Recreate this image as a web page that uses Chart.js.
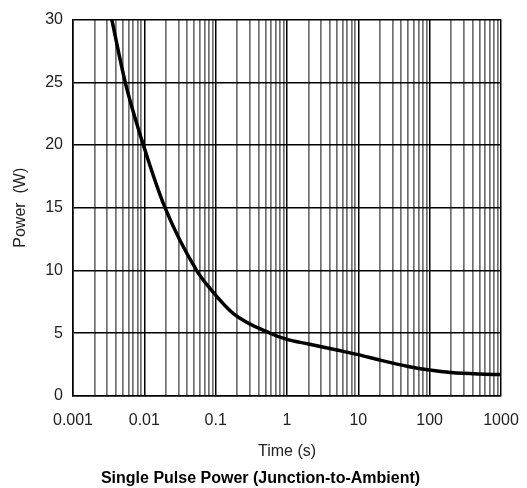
<!DOCTYPE html>
<html>
<head>
<meta charset="utf-8">
<script src="https://cdn.jsdelivr.net/npm/chart.js@4/dist/chart.umd.min.js"></script>
<style>
  html, body { margin: 0; padding: 0; background: #fff; }
  #wrap { width: 527px; height: 488px; }
</style>
</head>
<body>
<div id="wrap"><canvas id="pulseChart"></canvas></div>
<script>
// --- Data ---
const timeValues  = [0.0035, 0.0054, 0.0097, 0.0195, 0.054, 0.088, 0.177, 0.6, 1, 2, 5, 10, 20, 50, 100, 200, 500, 1000];
const powerValues = [30, 25, 20, 15, 10, 8.4, 6.56, 4.95, 4.5, 4.13, 3.65, 3.28, 2.85, 2.34, 2.05, 1.85, 1.73, 1.69];

// --- Axis ticks ---
const decadeTicks  = [0.001, 0.01, 0.1, 1, 10, 100, 1000];
const decadeLabels = ['0.001', '0.01', '0.1', '1', '10', '100', '1000'];
const minorSteps   = [2, 3, 4, 5, 6, 7, 8, 9];
const powerTicks   = [0, 5, 10, 15, 20, 25, 30];

const fontFamily = '"Liberation Sans", Arial, Helvetica, sans-serif';
const textColor = '#222';

// build the log grid: every decade plus its 2..9 multiples
function buildTimeTicks() {
    const ticks = [];
    decadeTicks.forEach((d, i) => {
        ticks.push({ value: d, major: true });
        if (i < decadeTicks.length - 1) {
            minorSteps.forEach(m => ticks.push({ value: d * m, major: false }));
        }
    });
    return ticks;
}

const ctx = document.getElementById('pulseChart').getContext('2d');

new Chart(ctx, {
    type: 'line',
    data: {
        datasets: [{
            label: 'Power',
            data: timeValues.map((t, i) => ({ x: t, y: powerValues[i] })),
            borderColor: '#000',
            borderWidth: 3.5,
            pointRadius: 0,
            cubicInterpolationMode: 'monotone',
            fill: false
        }]
    },
    options: {
        responsive: true,
        maintainAspectRatio: false,
        animation: false,
        layout: { padding: { left: 0, right: 6, top: 18, bottom: 0 } },
        plugins: {
            legend: { display: false },
            tooltip: { enabled: false },
            title: {
                display: true,
                position: 'bottom',
                text: 'Single Pulse Power (Junction-to-Ambient)',
                color: '#000',
                font: { family: fontFamily, size: 16, weight: 'bold' },
                padding: { top: 0, bottom: 0 }
            }
        },
        scales: {
            x: {
                type: 'logarithmic',
                min: 0.001,
                max: 1000,
                afterBuildTicks: (scale) => { scale.ticks = buildTimeTicks(); },
                afterFit: (scale) => {
                    scale.height = 73;
                    // fixed side margins; end labels may hang over like the original
                    scale.paddingLeft = 0;
                    scale.paddingRight = 26;
                },
                border: { display: true, color: '#000', width: 1.5 },
                grid: {
                    drawTicks: false,
                    color: (c) => (c.tick && c.tick.major) ? '#000' : '#707070',
                    lineWidth: (c) => (c.tick && c.tick.major) ? 1.5 : 1.7
                },
                ticks: {
                    autoSkip: false,
                    maxRotation: 0,
                    padding: 15,
                    color: textColor,
                    font: { family: fontFamily, size: 16 },
                    callback: (v) => {
                        const i = decadeTicks.findIndex(d => Math.abs(d - v) < d * 1e-6);
                        return i >= 0 ? decadeLabels[i] : '';
                    }
                },
                title: {
                    display: true,
                    text: 'Time (s)',
                    color: textColor,
                    font: { family: fontFamily, size: 16 },
                    padding: { top: 0, bottom: 8 }
                }
            },
            y: {
                min: 0,
                max: 30,
                afterBuildTicks: (scale) => { scale.ticks = powerTicks.map(v => ({ value: v })); },
                afterFit: (scale) => { scale.width = 73; },
                border: { display: true, color: '#000', width: 1.5 },
                grid: { drawTicks: false, color: '#000', lineWidth: 1.4 },
                ticks: {
                    padding: 10,
                    color: textColor,
                    font: { family: fontFamily, size: 16 }
                },
                title: {
                    display: true,
                    text: 'Power  (W)',
                    color: textColor,
                    font: { family: fontFamily, size: 16 },
                    padding: { top: 11, bottom: 0 }
                }
            }
        }
    }
});
</script>
</body>
</html>
